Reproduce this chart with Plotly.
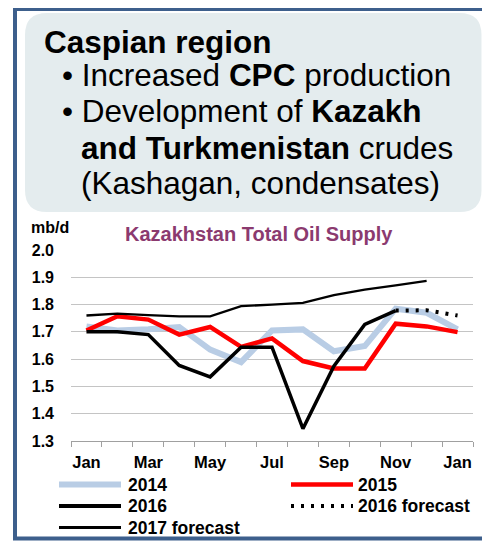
import plotly.graph_objects as go

# ---------------- data ----------------
months = ["Jan", "Feb", "Mar", "Apr", "May", "Jun", "Jul", "Aug", "Sep", "Oct", "Nov", "Dec", "Jan"]
tick_labels = ["Jan", "Mar", "May", "Jul", "Sep", "Nov", "Jan"]
y_ticks = [1.3, 1.4, 1.5, 1.6, 1.7, 1.8, 1.9, 2.0]

s2014 = [1.72, 1.705, 1.71, 1.718, 1.635, 1.589, 1.705, 1.709, 1.629, 1.648, 1.785, 1.77, 1.709]
s2015 = [1.705, 1.757, 1.745, 1.69, 1.718, 1.645, 1.676, 1.593, 1.566, 1.566, 1.73, 1.72, 1.699]
s2016 = [1.70, 1.70, 1.69, 1.577, 1.535, 1.644, 1.644, 1.345, 1.574, 1.727, 1.778]
s2016_fc = [None] * 10 + [1.778, 1.779, 1.76]
s2017_fc = [1.76, 1.767, 1.761, 1.757, 1.757, 1.794, 1.80, 1.806, 1.835, 1.855, 1.87, 1.887]

series_names = ["2014", "2015", "2016", "2016 forecast", "2017 forecast"]

# ---------------- layout geometry (pixels, in page coordinates) ----------------
OFF = 8  # default body margin of the html page
W, H = 490 - OFF, 541 - OFF
PLOT_X0, PLOT_X1, PLOT_Y0, PLOT_Y1 = 71, 473, 250, 441
L = PLOT_X0 - OFF
R = W - (PLOT_X1 - OFF)
T = PLOT_Y0 - OFF
B = H - (PLOT_Y1 - OFF)
PW, PH = W - L - R, H - T - B
FONT = "Arial, Liberation Sans, sans-serif"


def px(x):
    return (x - OFF - L) / PW


def py(y):
    return (H - B - (y - OFF)) / PH


xs = list(range(len(months)))

fig = go.Figure()
fig.add_trace(go.Scatter(x=xs, y=s2014, mode="lines", name=series_names[0],
                         line=dict(color="#b9cde5", width=6)))
fig.add_trace(go.Scatter(x=xs, y=s2015, mode="lines", name=series_names[1],
                         line=dict(color="#ff0000", width=4.5)))
fig.add_trace(go.Scatter(x=xs[:len(s2016)], y=s2016, mode="lines", name=series_names[2],
                         line=dict(color="#000000", width=3.5)))
fig.add_trace(go.Scatter(x=xs, y=s2016_fc, mode="lines", name=series_names[3],
                         line=dict(color="#000000", width=4, dash="3px,7px")))
fig.add_trace(go.Scatter(x=xs[:len(s2017_fc)], y=s2017_fc, mode="lines", name=series_names[4],
                         line=dict(color="#000000", width=2.3)))

shapes = []
# outer frame
shapes.append(dict(type="rect", xref="paper", yref="paper",
                   x0=px(15), x1=px(488), y0=py(9), y1=py(538.5),
                   line=dict(color="#3d5f8c", width=4), fillcolor="rgba(0,0,0,0)", layer="below"))

# rounded text box
x0, x1, y0, y1, r = 25, 481.5, 13, 212, 22
pts = [
    ("M", x0 + r, y0), ("L", x1 - r, y0), ("Q", x1, y0, x1, y0 + r),
    ("L", x1, y1 - r), ("Q", x1, y1, x1 - r, y1), ("L", x0 + r, y1),
    ("Q", x0, y1, x0, y1 - r), ("L", x0, y0 + r), ("Q", x0, y0, x0 + r, y0),
]
path = ""
for p in pts:
    cmd = p[0]
    coords = p[1:]
    seg = cmd
    for i in range(0, len(coords), 2):
        seg += " %.5f,%.5f" % (px(coords[i]), py(coords[i + 1]))
    path += seg + " "
path += "Z"
shapes.append(dict(type="path", xref="paper", yref="paper", path=path,
                   fillcolor="#e4ecee", line=dict(width=0), layer="below"))

# manual legend
leg_rows = [484.5, 506, 527.5]
leg = [
    (59, 121, leg_rows[0], "#b9cde5", 6, "solid", 126, series_names[0]),
    (291, 353, leg_rows[0], "#ff0000", 4.5, "solid", 356, series_names[1]),
    (59, 121, leg_rows[1], "#000000", 4, "solid", 126, series_names[2]),
    (291, 353, leg_rows[1], "#000000", 4, "3px,7px", 356, series_names[3]),
    (59, 121, leg_rows[2], "#000000", 3, "solid", 126, series_names[4]),
]
annotations = []
for lx0, lx1, ly, col, wd, dash, tx, txt in leg:
    shapes.append(dict(type="line", xref="paper", yref="paper",
                       x0=px(lx0), x1=px(lx1), y0=py(ly), y1=py(ly),
                       line=dict(color=col, width=wd, dash=dash)))
    annotations.append(dict(xref="paper", yref="paper", x=px(tx), y=py(ly),
                            xanchor="left", yanchor="middle", showarrow=False,
                            text="<b>%s</b>" % txt,
                            font=dict(family=FONT, size=17.5, color="#000000")))

# header text
header = [
    (43, 42.0, "<b>Caspian region</b>"),
    (61, 74.5, "• Increased <b>CPC</b> production"),
    (61, 110.8, "• Development of <b>Kazakh</b>"),
    (80, 147.5, "<b>and Turkmenistan</b> crudes"),
    (80, 182.5, "(Kashagan, condensates)"),
]
for hx, hy, txt in header:
    annotations.append(dict(xref="paper", yref="paper", x=px(hx), y=py(hy),
                            xanchor="left", yanchor="middle", showarrow=False,
                            borderpad=0,
                            text=txt, font=dict(family=FONT, size=31.5, color="#000000")))

# chart title and unit
annotations.append(dict(xref="paper", yref="paper", x=px(259), y=py(234),
                        xanchor="center", yanchor="middle", showarrow=False,
                        text="<b>Kazakhstan Total Oil Supply</b>",
                        font=dict(family=FONT, size=20, color="#8b3a6f")))
annotations.append(dict(xref="paper", yref="paper", x=px(29), y=py(227),
                        xanchor="left", yanchor="middle", showarrow=False,
                        text="<b>mb/d</b>",
                        font=dict(family=FONT, size=16, color="#000000")))

fig.update_layout(
    width=W, height=H,
    margin=dict(l=L, r=R, t=T, b=B),
    paper_bgcolor="white", plot_bgcolor="white",
    showlegend=False,
    shapes=shapes, annotations=annotations,
    font=dict(family=FONT, color="#000000"),
    xaxis=dict(
        range=[-0.5, len(months) - 0.5],
        tickmode="array", tickvals=xs[::2], ticktext=tick_labels,
        ticks="", showgrid=False, zeroline=False,
        showline=True, linecolor="#a0a0a0", linewidth=1,
        ticklabelstandoff=6,
        tickfont=dict(family=FONT, size=16.5, color="#000000", weight="bold"),
        minor=dict(tickmode="linear", tick0=-0.5, dtick=1, ticks="outside",
                   ticklen=5, tickcolor="#a0a0a0", tickwidth=1, showgrid=False),
        fixedrange=True,
    ),
    yaxis=dict(
        range=[1.3, 2.0], tickmode="array", tickvals=y_ticks,
        ticktext=["%.1f" % v for v in y_ticks],
        showgrid=True, gridcolor="#c4c4c4", gridwidth=1.3,
        zeroline=False, showline=False, ticks="",
        ticklabelstandoff=16,
        tickfont=dict(family=FONT, size=16, color="#000000", weight="bold"),
        fixedrange=True,
    ),
)

fig.write_html("out.html")
